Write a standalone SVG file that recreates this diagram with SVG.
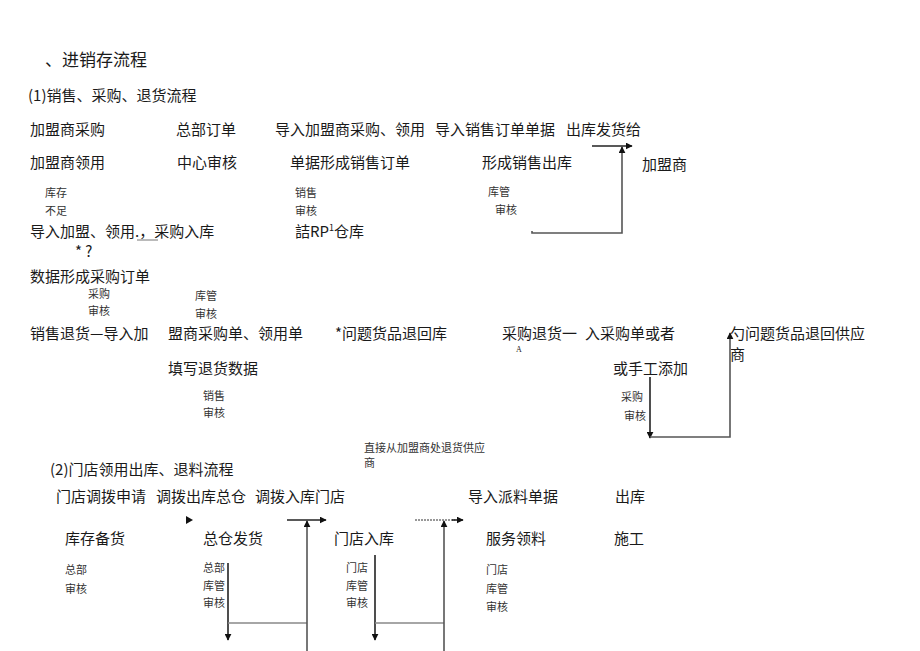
<svg xmlns="http://www.w3.org/2000/svg" width="920" height="651" viewBox="0 0 920 651">
<style>
text{font-family:"Noto Sans CJK SC","Liberation Sans",sans-serif;fill:#1a1a1a}
.t{font-size:17px}
.h{font-size:15px}
.m{font-size:15px}
.s{font-size:11px;fill:#333}
.x{font-size:8px;font-family:"Liberation Serif",serif}
.ln{fill:none;stroke:#555;stroke-width:1.6}
.lk{fill:none;stroke:#222;stroke-width:1.6}
.gr{fill:none;stroke:#888;stroke-width:1.5}
.dt{fill:none;stroke:#777;stroke-width:1.4;stroke-dasharray:2 1}
</style>
<defs>
<marker id="ah" viewBox="0 0 10 10" refX="9" refY="5" markerWidth="7" markerHeight="7" markerUnits="userSpaceOnUse" orient="auto"><path d="M0,0 L10,5 L0,10 z" fill="#111"/></marker>
</defs>
<rect width="920" height="651" fill="#fff"/>
<g id="title"><text class="t" x="45" y="66">、进销存流程</text></g>
<g id="sec1"><text class="h" x="28" y="101">(1)销售、采购、退货流程</text></g>

<g id="n-jms"><text class="m" x="30" y="135">加盟商采购</text><text class="m" x="30" y="168">加盟商领用</text></g>
<g id="n-zb"><text class="m" x="176" y="135">总部订单</text><text class="m" x="177" y="168">中心审核</text></g>
<g id="n-dr"><text class="m" x="275" y="135">导入加盟商采购、领用</text><text class="m" x="290" y="168">单据形成销售订单</text></g>
<g id="n-xs"><text class="m" x="435" y="135">导入销售订单单据</text><text class="m" x="482" y="168">形成销售出库</text></g>
<g id="n-ck"><text class="m" x="566" y="135">出库发货给</text><text class="m" x="642" y="170">加盟商</text></g>
<g id="l-kc"><text class="s" x="45" y="197">库存</text><text class="s" x="45" y="215">不足</text></g>
<g id="l-xs"><text class="s" x="295" y="197">销售</text><text class="s" x="295" y="215">审核</text></g>
<g id="l-kg"><text class="s" x="488" y="196">库管</text><text class="s" x="495" y="214">审核</text></g>
<g id="n-cgrk"><text class="m" x="30" y="237">导入加盟、领用.，采购入库</text><line x1="137" y1="240" x2="158" y2="240" stroke="#777" stroke-width="1"/></g>
<g id="n-ck2"><text class="m" x="295" y="237">詰RP<tspan font-size="9" dy="-6">1</tspan><tspan dy="6">仓库</tspan></text></g>
<g id="n-q"><text class="m" x="75" y="257" font-size="13">* ?</text></g>
<g id="n-cgdd"><text class="m" x="30" y="282">数据形成采购订单</text></g>
<g id="l-cg"><text class="s" x="88" y="298">采购</text><text class="s" x="88" y="315">审核</text></g>
<g id="l-kg2"><text class="s" x="195" y="300">库管</text><text class="s" x="195" y="318">审核</text></g>

<g id="n-xsth"><text class="m" x="30" y="339">销售退货—导入加</text></g>
<g id="n-msc"><text class="m" x="168" y="339">盟商采购单、领用单</text><text class="m" x="168" y="374">填写退货数据</text></g>
<g id="n-wt"><text class="m" x="335" y="339">*问题货品退回库</text></g>
<g id="n-cgth"><text class="m" x="502" y="339">采购退货一</text><text class="x" x="516" y="352">A</text></g>
<g id="n-rcg"><text class="m" x="585" y="339">入采购单或者</text><text class="m" x="613" y="374">或手工添加</text></g>
<g id="n-gys"><text class="m" x="730" y="339">勺问题货品退回供应</text><text class="m" x="730" y="360">商</text></g>
<g id="l-xs2"><text class="s" x="203" y="400">销售</text><text class="s" x="203" y="417">审核</text></g>
<g id="l-cg2"><text class="s" x="621" y="401">采购</text><text class="s" x="624" y="420">审核</text></g>
<g id="l-zj"><text class="s" x="364" y="452" font-size="11.5">直接从加盟商处退货供应</text><text class="s" x="364" y="467">商</text></g>

<g id="sec2"><text class="h" x="50" y="475">(2)门店领用出库、退料流程</text></g>
<g id="n-md"><text class="m" x="56" y="502">门店调拨申请<tspan x="156">调拨出库总仓</tspan><tspan x="255">调拨入库门店</tspan></text></g>
<g id="n-pl"><text class="m" x="468" y="502">导入派料单据</text></g>
<g id="n-ck3"><text class="m" x="615" y="502">出库</text><text class="m" x="614" y="544">施工</text></g>
<g id="n-kcbh"><text class="m" x="65" y="544">库存备货</text><text class="s" x="65" y="574">总部</text><text class="s" x="65" y="593">审核</text></g>
<g id="n-zcfh"><text class="m" x="203" y="544">总仓发货</text><text class="s" x="203" y="572">总部</text><text class="s" x="203" y="590">库管</text><text class="s" x="203" y="607">审核</text></g>
<g id="n-mdrk"><text class="m" x="334" y="544">门店入库</text><text class="s" x="346" y="572">门店</text><text class="s" x="346" y="590">库管</text><text class="s" x="346" y="607">审核</text></g>
<g id="n-fwll"><text class="m" x="486" y="544">服务领料</text><text class="s" x="486" y="574">门店</text><text class="s" x="486" y="593">库管</text><text class="s" x="486" y="611">审核</text></g>

<g id="connectors">
<path class="lk" d="M592,146 H632" marker-end="url(#ah)"/>
<path class="ln" d="M532,231 V233 H622 V147" marker-end="url(#ah)"/>
<path class="lk" d="M650,377 V438" marker-end="url(#ah)"/>
<path class="ln" d="M650,437 H730 V333" marker-end="url(#ah)"/>
<path d="M186,516 L193,520 L186,524 z" fill="#111"/>
<path class="lk" d="M287,520 H326" marker-end="url(#ah)"/>
<path class="dt" d="M415,520 H455"/>
<path class="lk" d="M452,520 H463" marker-end="url(#ah)"/>
<path class="lk" d="M228,563 V640" marker-end="url(#ah)"/>
<path class="gr" d="M228,623 H307"/>
<path class="ln" d="M307,651 V521" marker-end="url(#ah)"/>
<path class="lk" d="M375,555 V640" marker-end="url(#ah)"/>
<path class="gr" d="M375,623 H444"/>
<path class="ln" d="M444,651 V521" marker-end="url(#ah)"/>
</g>
</svg>
